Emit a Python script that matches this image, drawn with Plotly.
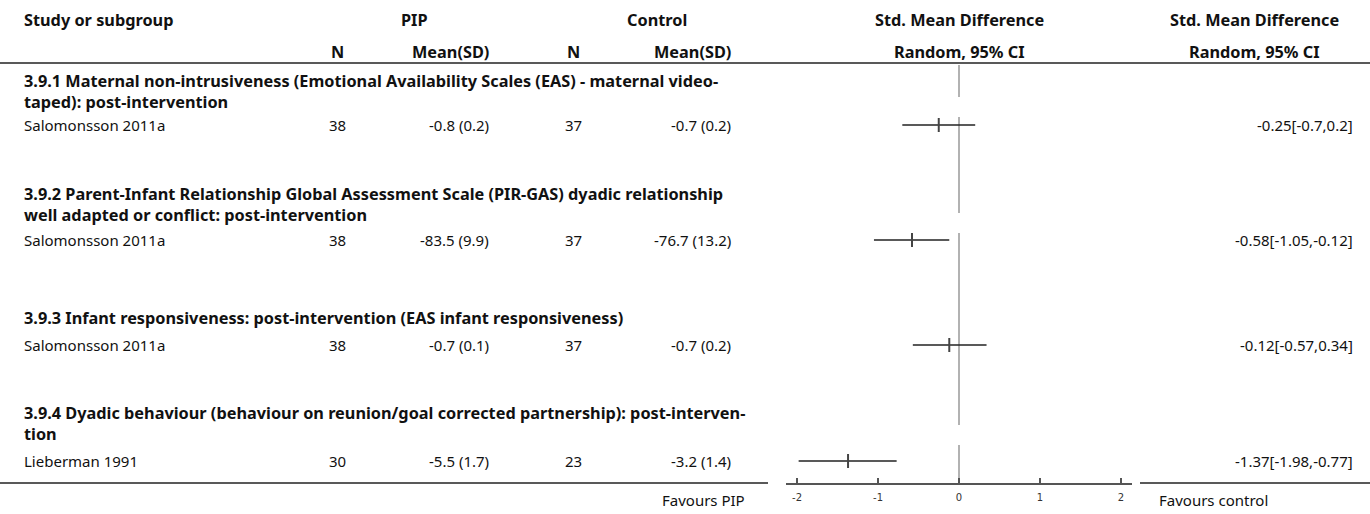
import plotly.graph_objects as go

# ---------------- data ----------------
subgroups = [
    "3.9.1 Maternal non-intrusiveness (Emotional Availability Scales (EAS) - maternal video-<br>taped): post-intervention",
    "3.9.2 Parent-Infant Relationship Global Assessment Scale (PIR-GAS) dyadic relationship<br>well adapted or conflict: post-intervention",
    "3.9.3 Infant responsiveness: post-intervention (EAS infant responsiveness)",
    "3.9.4 Dyadic behaviour (behaviour on reunion/goal corrected partnership): post-interven-<br>tion",
]
studies = ["Salomonsson 2011a", "Salomonsson 2011a", "Salomonsson 2011a", "Lieberman 1991"]
pip_n = [38, 38, 38, 30]
pip_mean_sd = ["-0.8 (0.2)", "-83.5 (9.9)", "-0.7 (0.1)", "-5.5 (1.7)"]
ctrl_n = [37, 37, 37, 23]
ctrl_mean_sd = ["-0.7 (0.2)", "-76.7 (13.2)", "-0.7 (0.2)", "-3.2 (1.4)"]
smd = [-0.25, -0.58, -0.12, -1.37]
ci_low = [-0.7, -1.05, -0.57, -1.98]
ci_high = [0.2, -0.12, 0.34, -0.77]
smd_labels = ["-0.25[-0.7,0.2]", "-0.58[-1.05,-0.12]", "-0.12[-0.57,0.34]", "-1.37[-1.98,-0.77]"]
axis_ticks = [-2, -1, 0, 1, 2]

# ---------------- layout positions (pixels) ----------------
W, H = 1370, 514
FONT = "Noto Sans, Open Sans, sans-serif"
FS = 15
FSB = 16.3
heading_y = [91, 204, 318, 423]
study_y = [125, 240, 345, 461]
axis_y = 483
zero_segments = [(65, 97), (117, 213), (233, 425), (445, 483)]

fig = go.Figure()

# CI lines and estimates on forest axis
for i in range(len(smd)):
    fig.add_trace(go.Scatter(
        x=[ci_low[i], ci_high[i]], y=[study_y[i], study_y[i]],
        mode="lines", line=dict(color="#222222", width=1.5),
        xaxis="x2", yaxis="y2", hoverinfo="skip", showlegend=False))
fig.add_trace(go.Scatter(
    x=smd, y=study_y, mode="markers",
    marker=dict(symbol="line-ns", size=10, line=dict(color="#444444", width=2)),
    xaxis="x2", yaxis="y2", hoverinfo="skip", showlegend=False))

shapes = []
for (a, b) in zero_segments:
    shapes.append(dict(type="line", xref="x2", yref="y2", x0=0, x1=0, y0=a, y1=b,
                       line=dict(color="#999999", width=1.5), layer="below"))
shapes.append(dict(type="line", xref="x", yref="y", x0=0, x1=W, y0=63, y1=63,
                   line=dict(color="#222222", width=1.5)))
shapes.append(dict(type="line", xref="x", yref="y", x0=0, x1=768, y0=axis_y, y1=axis_y,
                   line=dict(color="#222222", width=1.5)))
shapes.append(dict(type="line", xref="x", yref="y", x0=1140, x1=W, y0=axis_y, y1=axis_y,
                   line=dict(color="#222222", width=1.5)))

ann = []
def txt(x, y, s, anchor="left", bold=False, size=None, color="#111111"):
    if size is None:
        size = FSB if bold else FS
    ann.append(dict(x=x, y=y, xref="x", yref="y", text=("<b>%s</b>" % s) if bold else s,
                    showarrow=False, xanchor=anchor, yanchor="middle", align="left",
                    font=dict(family=FONT, size=size, color=color)))

# headers
txt(22, 20, "Study or subgroup", bold=True)
txt(414, 20, "PIP", "center", bold=True)
txt(657, 20, "Control", "center", bold=True)
txt(959, 20, "Std. Mean Difference", "center", bold=True)
txt(1254, 20, "Std. Mean Difference", "center", bold=True)
txt(337, 52, "N", "center", bold=True)
txt(491, 52, "Mean(SD)", "right", bold=True)
txt(573, 52, "N", "center", bold=True)
txt(733, 52, "Mean(SD)", "right", bold=True)
txt(959, 52, "Random, 95% CI", "center", bold=True)
txt(1254, 52, "Random, 95% CI", "center", bold=True)

for i in range(len(subgroups)):
    txt(22, heading_y[i], subgroups[i].replace("<br>", "</b><br><b>"), bold=True)
    txt(22, study_y[i], studies[i])
    txt(337, study_y[i], str(pip_n[i]), "center")
    txt(491, study_y[i], pip_mean_sd[i], "right")
    txt(573, study_y[i], str(ctrl_n[i]), "center")
    txt(733, study_y[i], ctrl_mean_sd[i], "right")
    txt(1355, study_y[i], smd_labels[i], "right")

txt(747, 500, "Favours PIP", "right")
txt(1157, 500, "Favours control", "left")

fig.update_layout(
    width=W, height=H, margin=dict(l=0, r=0, t=0, b=0),
    plot_bgcolor="white", paper_bgcolor="white",
    xaxis=dict(range=[0, W], domain=[0, 1], visible=False, fixedrange=True),
    yaxis=dict(range=[H, 0], domain=[0, 1], visible=False, fixedrange=True),
    xaxis2=dict(domain=[786 / W, 1132 / W], range=[-2.136, 2.136], anchor="y2",
                tickvals=axis_ticks, ticktext=[str(t) for t in axis_ticks],
                ticks="inside", ticklen=5, tickwidth=1.2, tickcolor="#555555",
                showline=True, linecolor="#555555", linewidth=1.5,
                showgrid=False, zeroline=False, ticklabelstandoff=4, fixedrange=True,
                tickfont=dict(family="DejaVu Sans, sans-serif", size=10, color="#333333")),
    yaxis2=dict(domain=[(H - axis_y) / H, 1], range=[axis_y, 0], anchor="x2",
                visible=False, fixedrange=True),
    shapes=shapes, annotations=ann, showlegend=False,
)

fig.write_html("out.html", config={"displayModeBar": False, "staticPlot": True},
               post_script="document.body.style.margin='0px';document.body.style.overflow='hidden';")
